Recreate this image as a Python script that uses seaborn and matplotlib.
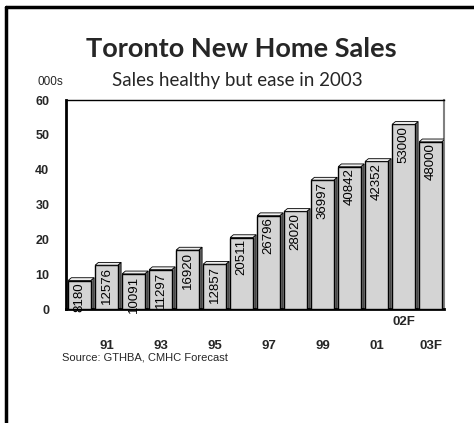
import matplotlib
matplotlib.use("Agg")
import matplotlib.pyplot as plt
import seaborn as sns
import pandas as pd
from matplotlib.patches import Polygon
from matplotlib.lines import Line2D

years = ["90", "91", "92", "93", "94", "95", "96", "97", "98", "99", "00", "01", "02F", "03F"]
sales = [8180, 12576, 10091, 11297, 16920, 12857, 20511, 26796, 28020, 36997, 40842, 42352, 53000, 48000]
tick_labels = ["", "91", "", "93", "", "95", "", "97", "", "99", "", "01", "02F", "03F"]
y_ticks = [0, 10, 20, 30, 40, 50, 60]

title = "Toronto New Home Sales"
subtitle = "Sales healthy but ease in 2003"
unit = "000s"
source = "Source: GTHBA, CMHC Forecast"

df = pd.DataFrame({"year": years, "sales_k": [v / 1000 for v in sales]})

sns.set_style("white")
plt.rcParams["font.family"] = ["Liberation Sans", "DejaVu Sans"]

fig = plt.figure(figsize=(4.74, 4.23), dpi=100)
ax = fig.add_axes([66 / 474, 1 - 309 / 423, 378 / 474, 209 / 423])

sns.barplot(data=df, x="year", y="sales_k", ax=ax, color="#d4d4d4",
            saturation=1, width=0.84, edgecolor="black", linewidth=1.0, zorder=3)

ax.set_ylim(0, 60)
ax.set_xlim(-0.5, len(years) - 0.5)

# 3D effect derived from bar geometry
dx, dy = 0.12, 0.8
for p, v in zip(ax.patches, sales):
    x0 = p.get_x(); w = p.get_width(); h = p.get_height()
    side = Polygon([[x0 + w, 0], [x0 + w + dx, dy * 0.3], [x0 + w + dx, h + dy],
                    [x0 + w, h]], closed=True, facecolor="#6e6e6e",
                   edgecolor="black", linewidth=0.6, zorder=2)
    top = Polygon([[x0, h], [x0 + dx, h + dy], [x0 + w + dx, h + dy], [x0 + w, h]],
                  closed=True, facecolor="#eeeeee", edgecolor="black",
                  linewidth=0.6, zorder=4)
    ax.add_patch(side)
    ax.add_patch(top)
    ax.text(x0 + w / 2, h - 0.5, f"{v}", rotation=90, ha="center", va="top",
            fontsize=9.5, color="black", zorder=5)

ax.set_xlabel("")
ax.set_ylabel("")
ax.set_yticks(y_ticks)
ax.set_yticklabels([str(t) for t in y_ticks], fontsize=9, fontweight="bold")
ax.set_xticks(range(len(years)))
ax.set_xticklabels(tick_labels, fontsize=9.5, fontweight="bold")
ax.tick_params(axis="both", length=0)
ax.tick_params(axis="y", pad=12)
for i, t in enumerate(ax.xaxis.get_major_ticks()):
    t.set_pad(5 if i == 12 else 22)

for s in ["left", "bottom"]:
    ax.spines[s].set_linewidth(2)
    ax.spines[s].set_color("black")
ax.spines["top"].set_linewidth(1)
ax.spines["top"].set_color("black")
ax.spines["right"].set_linewidth(1.5)
ax.spines["right"].set_color("#808080")

fig.text(241 / 474, 1 - 49 / 423, title, ha="center", va="center",
         fontsize=19.5, fontweight="bold", family=["Lato", "DejaVu Sans"])
fig.text(237 / 474, 1 - 80 / 423, subtitle, ha="center", va="center",
         fontsize=13.5, family=["Lato", "DejaVu Sans"])
fig.text(38 / 474, 1 - 82 / 423, unit, ha="left", va="center", fontsize=8.5)
fig.text(62 / 474, 1 - 357 / 423, source, ha="left", va="center", fontsize=8)

# page frame (top and left edges)
fig.add_artist(Line2D([6 / 474, 1.0], [1 - 7 / 423, 1 - 7 / 423],
                      transform=fig.transFigure, color="black", linewidth=2.5))
fig.add_artist(Line2D([6 / 474, 6 / 474], [0, 1 - 7 / 423],
                      transform=fig.transFigure, color="black", linewidth=2.5))

fig.savefig("out.png", dpi=100, facecolor="white")
